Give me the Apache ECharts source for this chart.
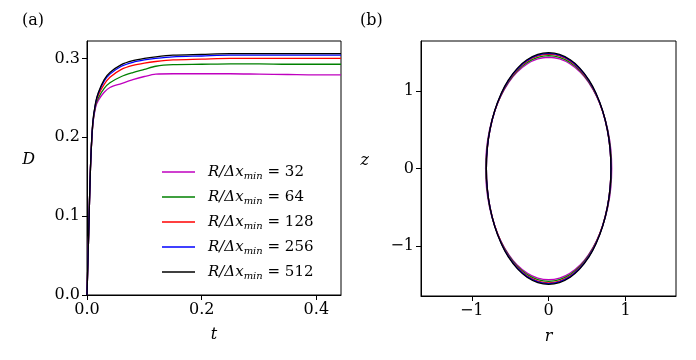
<!DOCTYPE html>
<html>
<head>
<meta charset="UTF-8">
<title>D(t) and interface shape</title>
<script src="https://cdn.jsdelivr.net/npm/echarts@6/dist/echarts.min.js"></script>
<style>
  html, body { margin: 0; padding: 0; background: #fff; }
  #chart { width: 696px; height: 360px; }
</style>
</head>
<body>
<div id="chart"></div>
<script>
// resolutions (legend order)
var resolutions = ['32', '64', '128', '256', '512'];
var colors = ['#bf00bf', '#008000', '#ff0000', '#0000ff', '#000000'];

// panel (a): deformation D vs time t
var tVals = [0, 0.003, 0.006, 0.01, 0.015, 0.02, 0.03, 0.04, 0.06, 0.08, 0.1, 0.12, 0.15, 0.2, 0.25, 0.3, 0.35, 0.4, 0.443];
var D32  = [0, 0.08, 0.16, 0.215, 0.238, 0.247, 0.257, 0.263, 0.268, 0.273, 0.277, 0.280, 0.2805, 0.2805, 0.2805, 0.280, 0.2795, 0.279, 0.279];
var D64  = [0, 0.08, 0.16, 0.215, 0.240, 0.250, 0.262, 0.269, 0.277, 0.282, 0.286, 0.290, 0.292, 0.2925, 0.293, 0.293, 0.2925, 0.2925, 0.2925];
var D128 = [0, 0.08, 0.16, 0.216, 0.242, 0.254, 0.267, 0.276, 0.286, 0.291, 0.294, 0.296, 0.298, 0.299, 0.300, 0.300, 0.300, 0.300, 0.300];
var D256 = [0, 0.08, 0.16, 0.217, 0.243, 0.256, 0.271, 0.280, 0.290, 0.295, 0.298, 0.300, 0.302, 0.303, 0.304, 0.304, 0.304, 0.304, 0.304];
var D512 = [0, 0.08, 0.16, 0.218, 0.244, 0.257, 0.273, 0.282, 0.292, 0.297, 0.300, 0.302, 0.304, 0.305, 0.306, 0.306, 0.306, 0.306, 0.306];
var Dseries = [D32, D64, D128, D256, D512];

// panel (b): drop contour (r, z), clockwise from the top
var shape32 = [
  [0,1.44],[0.142,1.418],[0.28,1.353],[0.41,1.247],[0.527,1.103],[0.628,0.926],[0.71,0.72],[0.771,0.492],[0.808,0.25],
  [0.82,0],[0.808,-0.25],[0.771,-0.492],[0.71,-0.72],[0.628,-0.926],[0.527,-1.103],[0.41,-1.247],[0.28,-1.353],[0.142,-1.418],
  [0,-1.44],[-0.142,-1.418],[-0.28,-1.353],[-0.41,-1.247],[-0.527,-1.103],[-0.628,-0.926],[-0.71,-0.72],[-0.771,-0.492],[-0.808,-0.25],
  [-0.82,0],[-0.808,0.25],[-0.771,0.492],[-0.71,0.72],[-0.628,0.926],[-0.527,1.103],[-0.41,1.247],[-0.28,1.353],[-0.142,1.418],[0,1.44]];
var shape64 = [
  [0,1.46],[0.141,1.438],[0.279,1.372],[0.408,1.264],[0.524,1.118],[0.624,0.938],[0.706,0.73],[0.766,0.499],[0.803,0.253],
  [0.815,0],[0.803,-0.253],[0.766,-0.499],[0.706,-0.73],[0.624,-0.938],[0.524,-1.118],[0.408,-1.264],[0.279,-1.372],[0.141,-1.438],
  [0,-1.46],[-0.141,-1.438],[-0.279,-1.372],[-0.408,-1.264],[-0.524,-1.118],[-0.624,-0.938],[-0.706,-0.73],[-0.766,-0.499],[-0.803,-0.253],
  [-0.815,0],[-0.803,0.253],[-0.766,0.499],[-0.706,0.73],[-0.624,0.938],[-0.524,1.118],[-0.408,1.264],[-0.279,1.372],[-0.141,1.438],[0,1.46]];
var shape128 = [
  [0,1.48],[0.141,1.458],[0.277,1.391],[0.405,1.282],[0.521,1.134],[0.62,0.951],[0.701,0.74],[0.761,0.506],[0.798,0.257],
  [0.81,0],[0.798,-0.257],[0.761,-0.506],[0.701,-0.74],[0.62,-0.951],[0.521,-1.134],[0.405,-1.282],[0.277,-1.391],[0.141,-1.458],
  [0,-1.48],[-0.141,-1.458],[-0.277,-1.391],[-0.405,-1.282],[-0.521,-1.134],[-0.62,-0.951],[-0.701,-0.74],[-0.761,-0.506],[-0.798,-0.257],
  [-0.81,0],[-0.798,0.257],[-0.761,0.506],[-0.701,0.74],[-0.62,0.951],[-0.521,1.134],[-0.405,1.282],[-0.277,1.391],[-0.141,1.458],[0,1.48]];
var shape256 = [
  [0,1.49],[0.141,1.467],[0.277,1.4],[0.405,1.29],[0.521,1.141],[0.62,0.958],[0.701,0.745],[0.761,0.51],[0.798,0.259],
  [0.81,0],[0.798,-0.259],[0.761,-0.51],[0.701,-0.745],[0.62,-0.958],[0.521,-1.141],[0.405,-1.29],[0.277,-1.4],[0.141,-1.467],
  [0,-1.49],[-0.141,-1.467],[-0.277,-1.4],[-0.405,-1.29],[-0.521,-1.141],[-0.62,-0.958],[-0.701,-0.745],[-0.761,-0.51],[-0.798,-0.259],
  [-0.81,0],[-0.798,0.259],[-0.761,0.51],[-0.701,0.745],[-0.62,0.958],[-0.521,1.141],[-0.405,1.29],[-0.277,1.4],[-0.141,1.467],[0,1.49]];
var shape512 = [
  [0,1.5],[0.141,1.477],[0.277,1.41],[0.405,1.299],[0.521,1.149],[0.62,0.964],[0.701,0.75],[0.761,0.513],[0.798,0.26],
  [0.81,0],[0.798,-0.26],[0.761,-0.513],[0.701,-0.75],[0.62,-0.964],[0.521,-1.149],[0.405,-1.299],[0.277,-1.41],[0.141,-1.477],
  [0,-1.5],[-0.141,-1.477],[-0.277,-1.41],[-0.405,-1.299],[-0.521,-1.149],[-0.62,-0.964],[-0.701,-0.75],[-0.761,-0.513],[-0.798,-0.26],
  [-0.81,0],[-0.798,0.26],[-0.761,0.513],[-0.701,0.75],[-0.62,0.964],[-0.521,1.149],[-0.405,1.299],[-0.277,1.41],[-0.141,1.477],[0,1.5]];
var shapes = [shape32, shape64, shape128, shape256, shape512];

var xTicksA = [0, 0.2, 0.4];
var yTicksA = [0, 0.1, 0.2, 0.3];
var ticksB = [-1, 0, 1];

var FONT = 'DejaVu Serif';
var FS = 16;
var chart = echarts.init(document.getElementById('chart'));

function axisCommon(ticks, fmt) {
  return {
    type: 'value',
    axisLine: { show: true, onZero: false, lineStyle: { color: '#000', width: 1 } },
    axisTick: { show: true, inside: false, length: 5, customValues: ticks, lineStyle: { color: '#000' } },
    axisLabel: { customValues: ticks, formatter: fmt, color: '#000', fontFamily: FONT, fontSize: FS, margin: 7 },
    splitLine: { show: false }
  };
}
function fmt1(v) { return v.toFixed(1); }
function fmtInt(v) { return v < 0 ? '\u2212' + Math.abs(v) : String(v); }
function nameStyle(va) {
  return { fontFamily: FONT, fontStyle: 'italic', fontSize: FS, color: '#000', verticalAlign: va };
}

var xA = axisCommon(xTicksA, fmt1);
xA.gridIndex = 0; xA.min = 0; xA.max = 0.443;
xA.name = 't'; xA.nameLocation = 'middle'; xA.nameGap = 32;
xA.nameTextStyle = nameStyle('top');

var yA = axisCommon(yTicksA, fmt1);
yA.gridIndex = 0; yA.min = 0; yA.max = 0.322;
yA.name = 'D'; yA.nameLocation = 'middle'; yA.nameRotate = 0; yA.nameGap = 52;
yA.nameTextStyle = nameStyle('bottom');

var xB = axisCommon(ticksB, fmtInt);
xB.gridIndex = 1; xB.min = -1.66; xB.max = 1.656;
xB.name = 'r'; xB.nameLocation = 'middle'; xB.nameGap = 33;
xB.nameTextStyle = nameStyle('top');

var yB = axisCommon(ticksB, fmtInt);
yB.gridIndex = 1; yB.min = -1.65; yB.max = 1.65;
yB.name = 'z'; yB.nameLocation = 'middle'; yB.nameRotate = 0; yB.nameGap = 52;
yB.nameTextStyle = nameStyle('bottom');

var series = [];
var legendNames = [];
for (var i = 0; i < resolutions.length; i++) {
  var nm = 'R/\u0394x_min = ' + resolutions[i];
  legendNames.push(nm);
  var pts = [];
  for (var k = 0; k < tVals.length; k++) pts.push([tVals[k], Dseries[i][k]]);
  series.push({
    name: nm, type: 'line', xAxisIndex: 0, yAxisIndex: 0,
    data: pts, showSymbol: false, symbol: 'none', smooth: 0.3,
    lineStyle: { color: colors[i], width: 1.3 }, itemStyle: { color: colors[i] },
    z: 2 + i, animation: false
  });
}
for (var j = 0; j < resolutions.length; j++) {
  series.push({
    name: 'shape' + resolutions[j], type: 'line', xAxisIndex: 1, yAxisIndex: 1,
    data: shapes[j], showSymbol: false, symbol: 'none', smooth: 0.5,
    lineStyle: { color: colors[j], width: 1.3 }, itemStyle: { color: colors[j] },
    z: 2 + j, animation: false
  });
}

var option = {
  backgroundColor: '#fff',
  animation: false,
  title: [
    { text: '(a)', left: 22, top: 13, padding: 0, textStyle: { fontFamily: FONT, fontSize: FS, fontWeight: 'normal', color: '#000' } },
    { text: '(b)', left: 360, top: 13, padding: 0, textStyle: { fontFamily: FONT, fontSize: FS, fontWeight: 'normal', color: '#000' } }
  ],
  grid: [
    { left: 87, top: 41, width: 254, height: 254, show: true, borderColor: '#000', borderWidth: 1, backgroundColor: 'transparent' },
    { left: 421, top: 41, width: 255, height: 255, show: true, borderColor: '#000', borderWidth: 1, backgroundColor: 'transparent' }
  ],
  xAxis: [xA, xB],
  yAxis: [yA, yB],
  legend: {
    data: legendNames,
    orient: 'vertical',
    left: 162, top: 163, padding: 0,
    icon: 'rect',
    itemWidth: 33, itemHeight: 1.5, itemGap: 7,
    formatter: function (name) {
      var v = name.split('= ')[1];
      return '{i|R/\u0394x}{s|min}{n| = ' + v + '}';
    },
    textStyle: {
      color: '#000', fontFamily: FONT, fontSize: 15, padding: [0, 0, 0, 8],
      rich: {
        i: { fontFamily: FONT, fontStyle: 'italic', fontSize: 15, lineHeight: 18 },
        s: { fontFamily: FONT, fontStyle: 'italic', fontSize: 10, lineHeight: 18, padding: [8, 0, 0, 0] },
        n: { fontFamily: FONT, fontSize: 15, lineHeight: 18 }
      }
    }
  },
  series: series
};
chart.setOption(option);
</script>
</body>
</html>
